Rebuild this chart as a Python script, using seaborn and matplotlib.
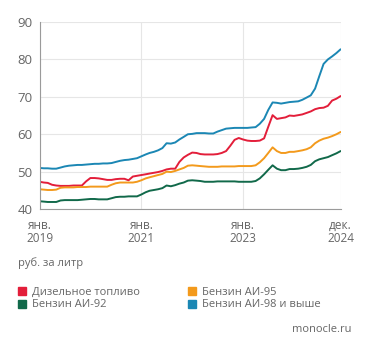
import pandas as pd
import seaborn as sns
import matplotlib.pyplot as plt
from matplotlib.lines import Line2D

# Средние цены на топливо, руб. за литр (помесячно, янв. 2019 - дек. 2024)
months = pd.date_range('2019-01-01', '2024-12-01', freq='MS')

diesel = [47.3, 47.1, 47.0, 46.5, 46.3, 46.2, 46.2, 46.2, 46.3, 46.3, 46.3, 47.4,
          48.3, 48.3, 48.2, 48.0, 47.8, 47.8, 48.0, 48.1, 48.1, 47.7, 48.7, 48.9,
          49.1, 49.3, 49.5, 49.7, 49.9, 50.2, 50.6, 50.8, 50.8, 52.6, 53.8, 54.5,
          55.1, 55.0, 54.7, 54.6, 54.6, 54.6, 54.7, 55.0, 55.5, 56.9, 58.5, 59.0,
          58.6, 58.3, 58.2, 58.2, 58.3, 58.9, 62.0, 65.1, 64.1, 64.3, 64.5, 65.0,
          64.9, 65.1, 65.3, 65.7, 66.1, 66.7, 67.0, 67.1, 67.6, 69.0, 69.5, 70.2]
ai95 = [45.3, 45.2, 45.1, 45.1, 45.2, 45.7, 45.8, 45.8, 45.8, 45.9, 45.9, 45.9,
        46.0, 46.0, 46.0, 46.0, 46.0, 46.5, 46.9, 47.1, 47.1, 47.1, 47.1, 47.3,
        47.7, 48.2, 48.5, 48.8, 49.1, 49.4, 50.0, 49.9, 50.2, 50.6, 51.0, 51.6,
        51.7, 51.6, 51.5, 51.4, 51.3, 51.3, 51.3, 51.4, 51.4, 51.4, 51.4, 51.5,
        51.5, 51.5, 51.5, 51.7, 52.5, 53.6, 55.0, 56.5, 55.5, 55.0, 55.0, 55.3,
        55.3, 55.5, 55.7, 56.0, 56.5, 57.6, 58.3, 58.8, 59.1, 59.5, 60.0, 60.6]
ai92 = [42.1, 42.0, 41.9, 41.9, 41.9, 42.3, 42.4, 42.4, 42.4, 42.4, 42.5, 42.6,
        42.7, 42.7, 42.6, 42.6, 42.6, 42.9, 43.2, 43.3, 43.3, 43.4, 43.4, 43.4,
        43.9, 44.5, 44.9, 45.1, 45.3, 45.6, 46.3, 46.1, 46.4, 46.8, 47.1, 47.6,
        47.7, 47.6, 47.5, 47.3, 47.3, 47.3, 47.4, 47.4, 47.4, 47.4, 47.4, 47.3,
        47.3, 47.3, 47.3, 47.5, 48.2, 49.3, 50.5, 51.7, 50.8, 50.4, 50.4, 50.7,
        50.7, 50.8, 51.0, 51.3, 51.8, 52.8, 53.3, 53.6, 53.9, 54.4, 54.9, 55.5]
ai98 = [51.0, 50.9, 50.9, 50.8, 50.8, 51.1, 51.4, 51.6, 51.7, 51.8, 51.8, 51.9,
        52.0, 52.1, 52.1, 52.2, 52.2, 52.3, 52.6, 52.9, 53.1, 53.2, 53.4, 53.6,
        54.1, 54.6, 55.0, 55.3, 55.7, 56.3, 57.6, 57.5, 57.8, 58.6, 59.3, 60.0,
        60.1, 60.3, 60.3, 60.3, 60.2, 60.2, 60.7, 61.1, 61.5, 61.6, 61.7, 61.7,
        61.7, 61.7, 61.8, 61.9, 62.8, 64.1, 66.5, 68.5, 68.4, 68.2, 68.4, 68.6,
        68.7, 68.8, 69.2, 69.8, 70.4, 72.2, 75.5, 78.8, 80.0, 80.8, 81.7, 82.7]

names = ['Дизельное топливо', 'Бензин АИ-92', 'Бензин АИ-95', 'Бензин АИ-98 и выше']
colors = ['#e31e3a', '#11694a', '#f39a1c', '#1b87b4']

tick_dates = pd.to_datetime(['2019-01-01', '2021-01-01', '2023-01-01', '2024-12-01'])
tick_labels = ['янв.\n2019', 'янв.\n2021', 'янв.\n2023', 'дек.\n2024']

df = pd.DataFrame({'date': months, names[0]: diesel, names[1]: ai92,
                   names[2]: ai95, names[3]: ai98})
long = df.melt(id_vars='date', var_name='fuel', value_name='price')

sns.set_theme(style='white')
plt.rcParams['font.family'] = ['Open Sans', 'DejaVu Sans']

fig = plt.figure(figsize=(3.71, 3.52), dpi=100)
ax = fig.add_axes([0.1065, 0.406, 0.8115, 0.5315])

sns.lineplot(data=long, x='date', y='price', hue='fuel', hue_order=names,
             palette=colors, linewidth=1.4, legend=False, ax=ax)

ax.set_xlim(months[0], months[-1])
ax.set_ylim(40, 90)
ax.set_yticks([40, 50, 60, 70, 80, 90])
ax.set_xticks(tick_dates)
ax.set_xticklabels(tick_labels)
ax.set_xlabel('')
ax.set_ylabel('')
ax.grid(True, color='#e6e6e6', linewidth=0.8)
ax.set_axisbelow(True)
for s in ['top', 'right']:
    ax.spines[s].set_visible(False)
for s in ['left', 'bottom']:
    ax.spines[s].set_color('#9a9a9a')
    ax.spines[s].set_linewidth(0.8)
ax.tick_params(axis='y', length=3, width=0.8, color='#9a9a9a', pad=2,
               labelsize=9.5, labelcolor='#666666')
ax.tick_params(axis='x', length=4, width=0.8, color='#9a9a9a', pad=3,
               labelsize=8.5, labelcolor='#666666')
for lab in ax.get_xticklabels():
    lab.set_linespacing(1.0)

fig.text(0.048, 0.253, 'руб. за литр', fontsize=8, color='#666666', va='center')

handles = [Line2D([], [], marker='s', linestyle='', color=c, markersize=5.5)
           for c in colors]
fig.legend(handles, names, loc='upper left', bbox_to_anchor=(0.035, 0.198),
           ncol=2, frameon=False, fontsize=8, labelcolor='#666666',
           handletextpad=0.5, columnspacing=4.3, labelspacing=0.15,
           handlelength=0.8, borderaxespad=0)

fig.text(0.947, 0.065, 'monocle.ru', fontsize=8, color='#666666',
         ha='right', va='center')

fig.savefig('out.png', dpi=100)
